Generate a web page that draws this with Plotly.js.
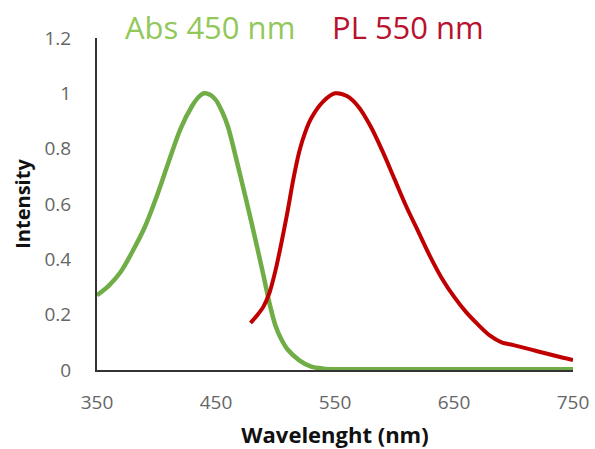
<!DOCTYPE html>
<html>
<head>
<meta charset="utf-8">
<script src="https://cdn.plot.ly/plotly-3.0.1.min.js"></script>
<style>html,body{margin:0;padding:0;background:#fff;}#chart{width:595px;height:449px;}</style>
</head>
<body>
<div id="chart"></div>
<script>
// Absorption spectrum (green)
var absWavelength = [350,360,370,380,390,400,410,420,430,435,440,445,450,455,460,470,480,490,495,500,505,510,520,530,540,550,575,600,625,650,675,700,725,750];
var absIntensity  = [0.27,0.305,0.355,0.43,0.515,0.625,0.75,0.87,0.955,0.985,1.0,0.995,0.975,0.935,0.88,0.71,0.53,0.34,0.24,0.16,0.11,0.075,0.035,0.012,0.005,0.003,0.003,0.003,0.003,0.003,0.003,0.003,0.003,0.003];

// Photoluminescence spectrum (red)
var plWavelength = [479,485,490,495,500,505,510,515,520,525,530,540,550,560,570,580,590,600,610,620,630,640,650,660,670,680,690,700,710,720,730,740,750];
var plIntensity  = [0.17,0.20,0.23,0.28,0.36,0.46,0.57,0.69,0.79,0.86,0.91,0.97,1.0,0.99,0.95,0.88,0.79,0.69,0.59,0.50,0.41,0.33,0.265,0.21,0.165,0.125,0.10,0.09,0.079,0.068,0.057,0.046,0.036];

var xTicks = [350,450,550,650,750];
var yTicks = [0,0.2,0.4,0.6,0.8,1,1.2];
var yTickText = ['0','0.2','0.4','0.6','0.8','1','1.2'];

var traces = [
  {x: absWavelength, y: absIntensity, type: 'scatter', mode: 'lines', name: 'Abs',
   line: {color: '#70AD47', width: 4.5, shape: 'spline', smoothing: 0.8}, cliponaxis: false},
  {x: plWavelength, y: plIntensity, type: 'scatter', mode: 'lines', name: 'PL',
   line: {color: '#C00000', width: 4, shape: 'spline', smoothing: 0.8}, cliponaxis: false}
];

var layout = {
  width: 595, height: 449,
  margin: {l: 97, r: 22, t: 38, b: 79},
  paper_bgcolor: '#ffffff', plot_bgcolor: '#ffffff',
  showlegend: false,
  font: {family: 'Open Sans, sans-serif', color: '#595959'},
  xaxis: {
    range: [350, 750], tickvals: xTicks, ticktext: xTicks.map(String),
    showgrid: false, zeroline: false, showline: true, linecolor: '#333333', linewidth: 2,
    ticks: '', ticklabelstandoff: 14, layer: 'below traces',
    tickfont: {size: 19, color: '#666666', family: 'Open Sans, sans-serif'},
    title: {text: 'Wavelenght (nm)', standoff: 18, font: {size: 22, color: '#111111', family: 'Open Sans, sans-serif', weight: 'bold'}}
  },
  yaxis: {
    range: [0, 1.2], tickvals: yTicks, ticktext: yTickText,
    showgrid: false, zeroline: false, showline: true, linecolor: '#333333', linewidth: 2,
    ticks: '', ticklabelstandoff: 20, layer: 'below traces',
    tickfont: {size: 19, color: '#666666', family: 'Open Sans, sans-serif'},
    title: {text: 'Intensity', standoff: 8, font: {size: 20, color: '#111111', family: 'Open Sans, sans-serif', weight: 'bold'}}
  },
  annotations: [
    {text: 'Abs 450 nm', xref: 'paper', yref: 'paper', x: 0.055, y: 1.033, xanchor: 'left', yanchor: 'middle',
     showarrow: false, font: {size: 31, color: '#92C85A', family: 'Open Sans, sans-serif'}},
    {text: 'PL 550 nm', xref: 'paper', yref: 'paper', x: 0.49, y: 1.033, xanchor: 'left', yanchor: 'middle',
     showarrow: false, font: {size: 31, color: '#B8122E', family: 'Open Sans, sans-serif'}}
  ]
};

Plotly.newPlot('chart', traces, layout, {displayModeBar: false, staticPlot: true});
</script>
</body>
</html>
